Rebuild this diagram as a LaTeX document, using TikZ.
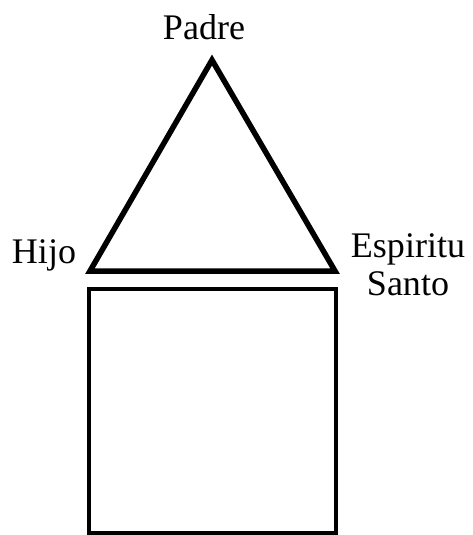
\documentclass[tikz,border=0pt]{standalone}
\usepackage{xcolor}
\usepackage{fontspec}
\setmainfont{Liberation Serif}
\usepackage{tikz}

\tikzset{
    trazo/.style={black, line width=0.11cm},
    nombre/.style={font=\fontsize{20.5}{21.6}\selectfont, anchor=base, inner sep=0pt, align=center}
}

\begin{document}
\begin{tikzpicture}[x=0.02cm, y=-0.02cm]
    \useasboundingbox (0,0) rectangle (473,535);
    % vertices del triangulo
    \coordinate (padre) at (212,60);
    \coordinate (hijo) at (90,271);
    \coordinate (espiritu) at (335,271);
    \draw[trazo] (padre) -- (hijo) -- (espiritu) -- cycle;
    % la casa
    \draw[trazo, line width=0.09cm] (89,289) rectangle (336,533);
    % nombres
    \node[nombre] (padrelbl) at (204,39) {Padre};
    \node[nombre] (hijolbl) at (44,263) {Hijo};
    \node[nombre] (espiritulbl) at (408,295) {Espiritu\\Santo};
\end{tikzpicture}
\end{document}
